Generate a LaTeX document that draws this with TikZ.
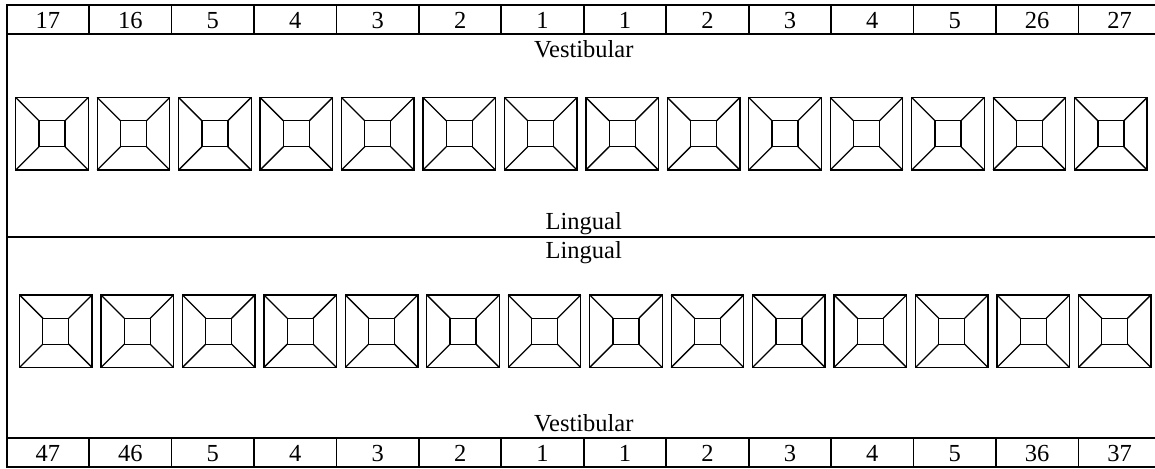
\documentclass[tikz,border=0pt]{standalone}
\usepackage{fontspec}
\setmainfont{Liberation Serif}
\tikzset{
  frame/.style={line width=1.8pt},
  tooth/.style={line width=1.3pt, line join=miter},
  lbl/.style={font=\fontsize{24.5}{28}\selectfont, inner sep=0pt, anchor=base},
  pics/toothbox/.style={code={
    \draw[tooth] (-36.25,-36.25) rectangle (36.25,36.25);
    \draw[tooth] (-13,-13) rectangle (13,13);
    \draw[tooth] (-36.25,-36.25) -- (-13,-13);
    \draw[tooth] (36.25,-36.25) -- (13,-13);
    \draw[tooth] (-36.25,36.25) -- (-13,13);
    \draw[tooth] (36.25,36.25) -- (13,13);
  }}
}
\begin{document}
\begin{tikzpicture}[x=1pt,y=-1pt]
\useasboundingbox (0,0) rectangle (1155,468);
\clip (0,0) rectangle (1155,468);
% chart frame and section rules
\draw[frame] (6.7,5) rectangle (1160.9,467);
\draw[frame] (6.7,34) -- (1160.9,34);
\draw[frame] (6.7,236.7) -- (1160.9,236.7);
\draw[frame] (6.7,438.3) -- (1160.9,438.3);
% column dividers of the numbering rows
\foreach \k in {1,...,13}{
  \draw[frame] ({6.7+82.44*\k},5) -- ({6.7+82.44*\k},34);
  \draw[frame] ({6.7+82.44*\k},438.3) -- ({6.7+82.44*\k},467);
}
% tooth numbers
\foreach \n [count=\i from 0] in {17,16,5,4,3,2,1,1,2,3,4,5,26,27}
  \node[lbl] (t\i) at ({6.7+82.44*(\i+0.5)},28.3) {\n};
\foreach \n [count=\i from 0] in {47,46,5,4,3,2,1,1,2,3,4,5,36,37}
  \node[lbl] (b\i) at ({6.7+82.44*(\i+0.5)},461.7) {\n};
% surface labels
\node[lbl] (vtop) at (583.8,57.3) {Vestibular};
\node[lbl] (ltop) at (583.8,229.3) {Lingual};
\node[lbl] (lbot) at (583.8,258.3) {Lingual};
\node[lbl] (vbot) at (583.8,431.7) {Vestibular};
% tooth surface diagrams
\foreach \i in {0,...,13}{
  \pic at ({52+81.45*\i},133.75) {toothbox};
  \pic at ({55.8+81.45*\i},331.2) {toothbox};
}
\end{tikzpicture}
\end{document}
